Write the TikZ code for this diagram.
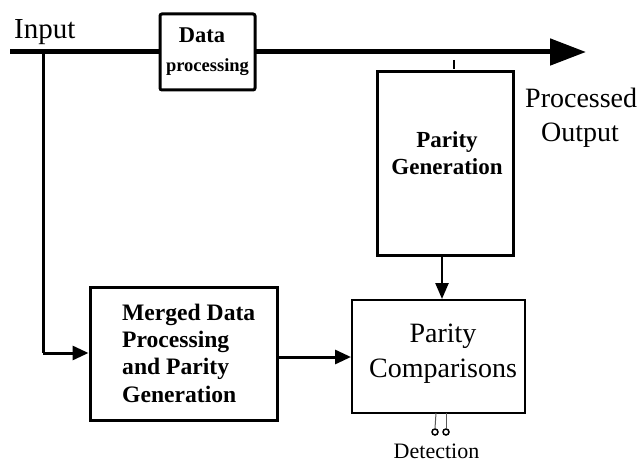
\documentclass[tikz,border=0pt]{standalone}
\usepackage{fontspec}
\setmainfont{Liberation Serif}
\usetikzlibrary{arrows.meta}
\begin{document}
\begin{tikzpicture}[x=1pt,y=-1pt,
  box/.style={draw=black,line width=3pt,fill=white,inner sep=0pt},
  thinbox/.style={draw=black,line width=2pt,fill=white,inner sep=0pt},
  conn/.style={line width=3pt,-{Triangle[length=16pt,width=14pt]}},
  lbl/.style={inner sep=0pt,anchor=base},
  lblw/.style={inner sep=0pt,anchor=base west}]
\useasboundingbox (0,0) rectangle (642,465);
% main line
\coordinate (in) at (10,52);
\coordinate (out) at (586,52);
\draw[line width=5pt,-{Triangle[length=36pt,width=26pt]}] (in) -- (out);
\node[lblw,font=\fontsize{29}{34}\selectfont] (input) at (14,39) {Input};
% data processing
\node[box,rounded corners=2pt,minimum width=95pt,minimum height=76pt] (dp) at (207.5,52) {};
\node[lbl,font=\bfseries\fontsize{22.5}{26}\selectfont] (dpt1) at (202,43) {Data};
\node[lbl,font=\bfseries\fontsize{18.5}{22}\selectfont] (dpt2) at (207.5,72) {processing};
% parity generation
\node[box,minimum width=136pt,minimum height=183pt] (pg) at (445,163.5) {};
\node[lbl,font=\bfseries\fontsize{23}{27}\selectfont] (pgt1) at (447,148) {Parity};
\node[lbl,font=\bfseries\fontsize{23}{27}\selectfont] (pgt2) at (447,175) {Generation};
\coordinate (tk1) at (454,60);
\coordinate (tk2) at (454,69);
\draw[line width=2pt] (tk1) -- (tk2);
% processed output
\node[lblw,font=\fontsize{28}{34}\selectfont] (po1) at (525,108) {Processed};
\node[lblw,font=\fontsize{28}{34}\selectfont] (po2) at (541,142) {Output};
% parity comparisons
\node[thinbox,minimum width=173pt,minimum height=113pt] (pc) at (438.5,356.5) {};
\node[lbl,font=\fontsize{28}{35}\selectfont] (pct1) at (443,342) {Parity};
\node[lbl,font=\fontsize{28}{35}\selectfont] (pct2) at (443,377) {Comparisons};
% merged
\node[box,minimum width=187pt,minimum height=133pt] (md) at (183.5,353.5) {};
\node[lblw,font=\bfseries\fontsize{23.6}{27}\selectfont] (mdt1) at (122,320) {Merged Data};
\node[lblw,font=\bfseries\fontsize{23.6}{27}\selectfont] (mdt2) at (122,347) {Processing};
\node[lblw,font=\bfseries\fontsize{23.6}{27}\selectfont] (mdt3) at (122,374) {and Parity};
\node[lblw,font=\bfseries\fontsize{23.6}{27}\selectfont] (mdt4) at (122,402) {Generation};
% connectors
\coordinate (br) at (43,52);
\coordinate (bc) at (43,353);
\draw[line width=3pt] (br) -- (bc);
\draw[conn] (bc) -- (md.west |- bc);
\draw[conn] (md.east |- 0,357) -- (pc.west |- 0,357);
\draw[line width=2.5pt,-{Triangle[length=16pt,width=13pt]}] (pg.south -| 442,0) -- (pc.north -| 442,0);
% detection
\coordinate (d1) at (436,413);
\coordinate (d2) at (446,413);
\node[circle,draw,line width=1.5pt,inner sep=0pt,minimum size=6pt] (c1) at (435,432) {};
\node[circle,draw,line width=1.5pt,inner sep=0pt,minimum size=6pt] (c2) at (446,432) {};
\draw[line width=1pt,gray!70!black] (d1) -- (c1.north);
\draw[line width=1pt,gray!70!black] (d2) -- (c2.north);
\node[lbl,font=\fontsize{22}{26}\selectfont] (det) at (436.5,458) {Detection};
\end{tikzpicture}
\end{document}
